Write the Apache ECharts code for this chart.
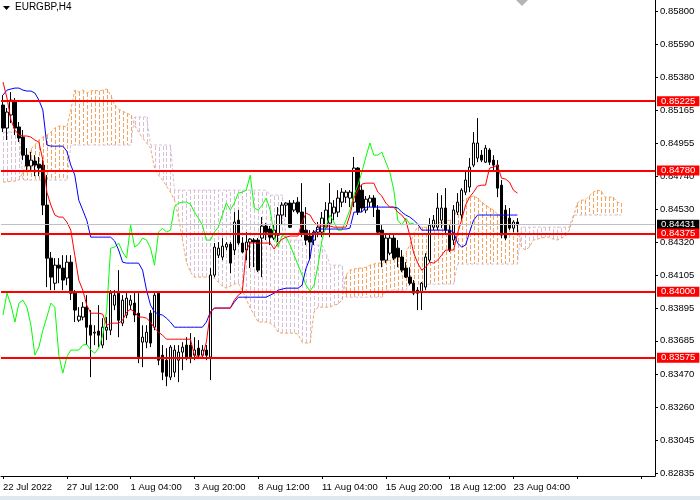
<!DOCTYPE html>
<html><head><meta charset="utf-8">
<script src="https://cdn.jsdelivr.net/npm/echarts/dist/echarts.min.js"></script>
<style>html,body{margin:0;padding:0;background:#fff}#c{width:700px;height:500px}</style>
</head><body><div id="c"></div>
<script>
// ---- DATA ----
const symbolTitle = 'EURGBP,H4';
const xTickLabels = ['22 Jul 2022','27 Jul 12:00','1 Aug 04:00','3 Aug 20:00','8 Aug 12:00','11 Aug 04:00','15 Aug 20:00','18 Aug 12:00','23 Aug 04:00'];
const yTickLabels = [0.82835,0.83045,0.83260,0.83470,0.83685,0.83895,0.84105,0.84320,0.84530,0.84740,0.84955,0.85165,0.85380,0.85590,0.85800];
const levels = [0.85225,0.84780,0.84375,0.84000,0.83575];
const bid = 0.84431;

const opens = [0.85200,0.85052,0.85136,0.85219,0.85059,0.84994,0.84878,0.84808,0.84840,0.84820,
0.84814,0.84557,0.84216,0.84055,0.84171,0.84152,0.84088,0.84190,0.83991,0.83817,
0.83837,0.83901,0.83785,0.83734,0.83747,0.83657,0.83753,0.83753,0.83914,0.83991,
0.83798,0.83850,0.83914,0.83927,0.83862,0.83676,0.83676,0.83862,0.83772,0.83991,
0.83592,0.83560,0.83451,0.83483,0.83560,0.83612,0.83657,0.83657,0.83592,0.83637,
0.83592,0.83625,0.83580,0.84107,0.84235,0.84223,0.84287,0.84306,0.84268,0.84460,
0.84313,0.84268,0.84319,0.84332,0.84332,0.84345,0.84422,0.84403,0.84345,0.84364,
0.84493,0.84557,0.84570,0.84525,0.84576,0.84512,0.84396,0.84358,0.84332,0.84383,
0.84383,0.84415,0.84441,0.84505,0.84512,0.84576,0.84608,0.84602,0.84576,0.84795,
0.84653,0.84525,0.84576,0.84602,0.84525,0.84396,0.84203,0.84248,0.84345,0.84280,
0.84223,0.84152,0.84094,0.84055,0.84010,0.83997,0.84030,0.84203,0.84415,0.84415,
0.84460,0.84538,0.84396,0.84332,0.84512,0.84493,0.84640,0.84673,0.84814,0.84859,
0.84878,0.84833,0.84911,0.84846,0.84814,0.84685,0.84525,0.84473,0.84409,0.84448];
const closes = [0.85052,0.85155,0.85232,0.85052,0.84988,0.84878,0.84808,0.84846,0.84814,0.84795,
0.84557,0.84216,0.84094,0.84171,0.84152,0.84075,0.84190,0.83991,0.83882,0.83843,
0.83901,0.83772,0.83721,0.83740,0.83721,0.83772,0.83772,0.83991,0.83978,0.83817,
0.83946,0.83959,0.83946,0.83850,0.83580,0.83708,0.83740,0.83670,0.83978,0.83560,
0.83483,0.83457,0.83644,0.83625,0.83612,0.83644,0.83580,0.83573,0.83625,0.83592,
0.83625,0.83592,0.84107,0.84287,0.84280,0.84293,0.84306,0.84184,0.84448,0.84313,
0.84255,0.84319,0.84338,0.84319,0.84139,0.84422,0.84383,0.84351,0.84396,0.84493,
0.84557,0.84570,0.84415,0.84570,0.84512,0.84377,0.84332,0.84319,0.84383,0.84415,
0.84473,0.84525,0.84570,0.84544,0.84602,0.84640,0.84640,0.84640,0.84795,0.84512,
0.84538,0.84595,0.84602,0.84544,0.84383,0.84203,0.84345,0.84345,0.84216,0.84223,
0.84139,0.84094,0.84055,0.83991,0.83991,0.84055,0.84223,0.84428,0.84460,0.84538,
0.84538,0.84396,0.84268,0.84525,0.84576,0.84653,0.84718,0.84801,0.84956,0.84956,
0.84846,0.84923,0.84833,0.84814,0.84666,0.84364,0.84345,0.84409,0.84448,0.84431];
const lows = [0.85026,0.84975,0.85084,0.85007,0.84962,0.84846,0.84769,0.84769,0.84743,0.84743,
0.84493,0.84030,0.84010,0.84010,0.84055,0.84010,0.84042,0.83946,0.83805,0.83805,
0.83817,0.83657,0.83451,0.83657,0.83644,0.83637,0.83689,0.83721,0.83882,0.83708,
0.83779,0.83830,0.83882,0.83805,0.83541,0.83515,0.83637,0.83644,0.83753,0.83528,
0.83432,0.83393,0.83432,0.83451,0.83419,0.83496,0.83560,0.83541,0.83560,0.83573,
0.83573,0.83560,0.83432,0.84094,0.84216,0.84203,0.84268,0.84120,0.84235,0.84300,
0.84248,0.84203,0.84152,0.84158,0.84126,0.84094,0.84332,0.84300,0.84332,0.84319,
0.84428,0.84480,0.84409,0.84512,0.84499,0.84351,0.84300,0.84203,0.84300,0.84351,
0.84351,0.84409,0.84351,0.84460,0.84480,0.84544,0.84570,0.84544,0.84544,0.84493,
0.84512,0.84505,0.84544,0.84480,0.84377,0.84158,0.84184,0.84235,0.84203,0.84158,
0.84126,0.84088,0.84042,0.83978,0.83882,0.83882,0.84010,0.84190,0.84396,0.84396,
0.84409,0.84377,0.84255,0.84300,0.84493,0.84460,0.84621,0.84640,0.84801,0.84833,
0.84833,0.84827,0.84814,0.84769,0.84608,0.84345,0.84332,0.84396,0.84383,0.84383];
const highs = [0.85264,0.85181,0.85283,0.85245,0.85091,0.85039,0.84923,0.84898,0.84878,0.84866,
0.84846,0.84750,0.84255,0.84216,0.84216,0.84235,0.84235,0.84235,0.84010,0.83901,
0.83933,0.83978,0.83882,0.83785,0.83914,0.83830,0.83837,0.84010,0.84010,0.84139,
0.83978,0.83991,0.83978,0.83991,0.83991,0.83785,0.83785,0.83882,0.83997,0.84004,
0.83657,0.83637,0.83657,0.83657,0.83657,0.83676,0.83708,0.83734,0.83708,0.83689,
0.83657,0.83657,0.84152,0.84313,0.84319,0.84345,0.84319,0.84319,0.84512,0.84525,
0.84351,0.84383,0.84345,0.84345,0.84345,0.84480,0.84441,0.84422,0.84428,0.84544,
0.84576,0.84576,0.84589,0.84589,0.84608,0.84698,0.84544,0.84396,0.84396,0.84448,
0.84512,0.84576,0.84698,0.84589,0.84653,0.84666,0.84653,0.84653,0.84866,0.84801,
0.84685,0.84615,0.84621,0.84621,0.84557,0.84428,0.84377,0.84377,0.84364,0.84332,
0.84268,0.84190,0.84158,0.84075,0.84030,0.84062,0.84248,0.84473,0.84493,0.84634,
0.84621,0.84666,0.84428,0.84557,0.84634,0.84666,0.84782,0.84859,0.85026,0.85116,
0.84911,0.84943,0.84923,0.84878,0.84846,0.84718,0.84557,0.84538,0.84460,0.84473];

const tenkan = [0.85348,0.85245,0.85103,0.85039,0.85007,0.85001,0.85001,0.84994,0.84975,0.84962,
0.84846,0.84640,0.84557,0.84493,0.84480,0.84480,0.84448,0.84396,0.84235,0.84075,
0.84010,0.83914,0.83862,0.83862,0.83862,0.83856,0.83785,0.83798,0.83798,0.83798,
0.83817,0.83869,0.83888,0.83869,0.83837,0.83837,0.83830,0.83805,0.83766,0.83740,
0.83721,0.83695,0.83695,0.83695,0.83695,0.83695,0.83695,0.83695,0.83592,0.83580,
0.83580,0.83676,0.83869,0.83895,0.83895,0.83895,0.83895,0.83895,0.83946,0.83978,
0.83997,0.84268,0.84313,0.84313,0.84313,0.84313,0.84313,0.84313,0.84274,0.84313,
0.84338,0.84351,0.84358,0.84358,0.84358,0.84448,0.84505,0.84493,0.84448,0.84422,
0.84422,0.84422,0.84422,0.84415,0.84415,0.84415,0.84415,0.84493,0.84602,0.84653,
0.84692,0.84698,0.84698,0.84698,0.84640,0.84615,0.84570,0.84544,0.84544,0.84512,
0.84493,0.84460,0.84364,0.84248,0.84184,0.84139,0.84158,0.84190,0.84184,0.84203,
0.84235,0.84268,0.84268,0.84268,0.84377,0.84460,0.84557,0.84608,0.84640,0.84679,
0.84685,0.84685,0.84795,0.84801,0.84814,0.84730,0.84724,0.84705,0.84653,0.84634];
const kijun = [0.85264,0.85296,0.85303,0.85309,0.85309,0.85296,0.85290,0.85290,0.85277,0.85232,
0.85168,0.84943,0.84936,0.84936,0.84936,0.84936,0.84904,0.84814,0.84750,0.84589,
0.84525,0.84460,0.84351,0.84351,0.84351,0.84351,0.84351,0.84351,0.84326,0.84268,
0.84190,0.84184,0.84184,0.84184,0.84184,0.84139,0.84010,0.83914,0.83869,0.83856,
0.83850,0.83830,0.83805,0.83772,0.83772,0.83772,0.83772,0.83772,0.83772,0.83772,
0.83772,0.83805,0.83869,0.83895,0.83895,0.83895,0.83895,0.83895,0.83933,0.83965,
0.83965,0.83965,0.83965,0.83965,0.83965,0.83965,0.83965,0.83978,0.83991,0.84010,
0.84017,0.84023,0.84023,0.84023,0.84023,0.84042,0.84152,0.84216,0.84383,0.84403,
0.84403,0.84403,0.84403,0.84403,0.84403,0.84403,0.84403,0.84409,0.84512,0.84512,
0.84512,0.84544,0.84544,0.84544,0.84544,0.84544,0.84544,0.84544,0.84544,0.84538,
0.84512,0.84493,0.84480,0.84460,0.84435,0.84396,0.84396,0.84396,0.84396,0.84396,
0.84396,0.84396,0.84396,0.84383,0.84313,0.84287,0.84300,0.84383,0.84460,0.84493,
0.84493,0.84493,0.84493,0.84493,0.84493,0.84493,0.84493,0.84493,0.84493,0.84493];
const chikou = [0.83850,0.83991,0.83914,0.83805,0.83927,0.83946,0.83901,0.83785,0.83592,0.83644,
0.83753,0.83837,0.83927,0.83901,0.83592,0.83477,0.83580,0.83625,0.83625,0.83625,
0.83657,0.83663,0.83625,0.83605,0.83637,0.83721,0.83882,0.84280,0.84287,0.84313,
0.84255,0.84216,0.84428,0.84287,0.84306,0.84345,0.84332,0.84280,0.84171,0.84383,
0.84409,0.84383,0.84396,0.84544,0.84570,0.84576,0.84576,0.84563,0.84512,0.84473,
0.84428,0.84332,0.84332,0.84383,0.84415,0.84493,0.84570,0.84525,0.84570,0.84634,
0.84640,0.84653,0.84750,0.84538,0.84525,0.84557,0.84602,0.84525,0.84364,0.84287,
0.84364,0.84351,0.84300,0.84235,0.84171,0.84107,0.84042,0.84004,0.84042,0.84171,
0.84332,0.84422,0.84493,0.84448,0.84396,0.84396,0.84460,0.84525,0.84621,0.84685,
0.84769,0.84866,0.84956,0.84878,0.84878,0.84898,0.84833,0.84769,0.84653,0.84460,
0.84428,0.84473,0.84435,0.84441];
const spanA = [0.84705,0.84705,0.84711,0.84711,0.84718,0.84769,0.84846,0.84917,0.84943,0.84975,
0.84994,0.85007,0.85026,0.85052,0.85065,0.85065,0.85059,0.85168,0.85296,0.85283,
0.85296,0.85277,0.85290,0.85296,0.85290,0.85296,0.85303,0.85264,0.85200,0.85174,
0.85161,0.85148,0.85136,0.85071,0.85026,0.84988,0.84956,0.84923,0.84795,0.84750,
0.84718,0.84679,0.84640,0.84589,0.84480,0.84332,0.84190,0.84126,0.84094,0.84094,
0.84094,0.84094,0.84094,0.84088,0.84062,0.84036,0.84023,0.84036,0.84049,0.84055,
0.84010,0.83952,0.83895,0.83850,0.83805,0.83805,0.83805,0.83798,0.83779,0.83740,
0.83734,0.83734,0.83734,0.83734,0.83727,0.83676,0.83670,0.83670,0.83869,0.83901,
0.83901,0.83901,0.83901,0.83914,0.83920,0.83946,0.84107,0.84139,0.84145,0.84152,
0.84152,0.84158,0.84171,0.84178,0.84184,0.84184,0.84197,0.84203,0.84210,0.84216,
0.84223,0.84248,0.84300,0.84377,0.84415,0.84415,0.84415,0.84422,0.84435,0.84441,
0.84448,0.84454,0.84460,0.84473,0.84538,0.84576,0.84595,0.84608,0.84615,0.84602,
0.84576,0.84557,0.84538,0.84525,0.84499,0.84480,0.84467,0.84448,0.84435,0.84422,
0.84287,0.84268,0.84287,0.84332,0.84338,0.84345,0.84351,0.84351,0.84338,0.84332,
0.84345,0.84358,0.84396,0.84473,0.84570,0.84589,0.84589,0.84615,0.84640,0.84653,
0.84647,0.84608,0.84608,0.84608,0.84576,0.84570];
const spanB = [0.85026,0.85026,0.85026,0.85026,0.85026,0.84718,0.84718,0.84718,0.84718,0.84718,
0.84718,0.84718,0.84718,0.84718,0.84718,0.84718,0.84718,0.84943,0.84943,0.84943,
0.84943,0.84943,0.84943,0.84943,0.84943,0.84943,0.84943,0.84943,0.84943,0.84943,
0.84943,0.84943,0.84943,0.85123,0.85123,0.85123,0.85123,0.84943,0.84943,0.84943,
0.84943,0.84943,0.84943,0.84653,0.84653,0.84653,0.84653,0.84653,0.84653,0.84653,
0.84653,0.84653,0.84653,0.84653,0.84653,0.84653,0.84653,0.84653,0.84653,0.84653,
0.84653,0.84653,0.84653,0.84653,0.84653,0.84653,0.84653,0.84621,0.84621,0.84621,
0.84621,0.84332,0.84332,0.84332,0.84332,0.84332,0.84332,0.84332,0.84300,0.84300,
0.84300,0.84248,0.84171,0.84171,0.84171,0.84171,0.83965,0.83965,0.83965,0.83965,
0.83965,0.83965,0.83965,0.83965,0.83965,0.83965,0.84010,0.84010,0.84010,0.84010,
0.84010,0.84010,0.84049,0.84049,0.84049,0.84049,0.84049,0.84049,0.84049,0.84049,
0.84049,0.84049,0.84049,0.84049,0.84178,0.84178,0.84178,0.84178,0.84178,0.84178,
0.84178,0.84178,0.84178,0.84178,0.84178,0.84178,0.84178,0.84178,0.84178,0.84178,
0.84415,0.84415,0.84415,0.84415,0.84415,0.84415,0.84415,0.84415,0.84415,0.84415,
0.84415,0.84415,0.84415,0.84493,0.84493,0.84493,0.84493,0.84493,0.84493,0.84493,
0.84493,0.84493,0.84493,0.84493,0.84493,0.84493];

// H4 bar times (weekends skipped), incl. future slots for the shifted cloud
const months = ['Jan','Feb','Mar','Apr','May','Jun','Jul','Aug','Sep','Oct','Nov','Dec'];
const categories = [];
(function () {
  let t = Date.UTC(2022, 6, 22, 20);
  while (categories.length < 164) {
    const d = new Date(t), wd = d.getUTCDay();
    if (wd !== 0 && wd !== 6) {
      categories.push(d.getUTCDate() + ' ' + months[d.getUTCMonth()] + ' ' + String(d.getUTCHours()).padStart(2, '0') + ':00');
    }
    t += 4 * 3600 * 1000;
  }
})();
const labelStep = 16;

const candleData = opens.map((o, i) => [o, closes[i], lows[i], highs[i]]);
const cloudData = spanA.map((a, i) => [i, a, spanB[i]]);

const FONT = '"Liberation Sans", Arial, sans-serif';
const chart = echarts.init(document.getElementById('c'), null, {renderer: 'canvas'});
const boxLabel = (bg) => ({show: true, position: 'end', distance: 2, formatter: (p) => Number(p.value).toFixed(5),
  color: '#fff', backgroundColor: bg, fontSize: 9.5, fontFamily: FONT, padding: [1, 4, 0, 4], lineHeight: 9});
chart.setOption({
  animation: false,
  backgroundColor: '#ffffff',
  textStyle: {fontFamily: FONT},
  grid: {left: 0, right: 45, top: 0, bottom: 24},
  xAxis: {
    type: 'category', data: categories, boundaryGap: true,
    axisLine: {show: true, lineStyle: {color: '#000', width: 1}},
    axisTick: {show: true, alignWithLabel: true, length: 3, interval: (i) => i % labelStep === 0, lineStyle: {color: '#000'}},
    axisLabel: {interval: (i) => i % labelStep === 0, formatter: (v, i) => xTickLabels[i / labelStep] || '',
      align: 'left', color: '#000', fontSize: 9.5, fontFamily: FONT, margin: 6},
    splitLine: {show: false}
  },
  yAxis: {
    type: 'value', position: 'right', min: 0.828157, max: 0.858752,
    axisLine: {show: true, lineStyle: {color: '#000', width: 1}},
    axisTick: {show: true, inside: false, length: 3, customValues: yTickLabels, lineStyle: {color: '#000'}},
    axisLabel: {customValues: yTickLabels, formatter: (v) => v.toFixed(5), color: '#000', fontSize: 9.5, fontFamily: FONT, margin: 5},
    splitLine: {show: false}
  },
  series: [
    {
      type: 'custom', name: 'cloud', z: 1, silent: true, clip: true,
      data: cloudData, encode: {x: 0, y: [1, 2]},
      renderItem: function (params, api) {
        const a = api.value(1), b = api.value(2);
        const p1 = api.coord([api.value(0), a]);
        const p2 = api.coord([api.value(0), b]);
        const x = Math.round(p1[0]) + 0.5;
        return {type: 'line', shape: {x1: x, y1: Math.round(p1[1]), x2: x, y2: Math.round(p2[1])},
          style: {stroke: a >= b ? '#F4A460' : '#D8BFD8', lineWidth: 1, lineDash: [4, 2]}};
      }
    },
    {type: 'line', name: 'Senkou A', data: spanA, z: 2, symbol: 'none', silent: true,
      lineStyle: {color: '#F4A460', width: 1, type: [3, 2]},
      markLine: {symbol: ['none', 'none'], silent: true, animation: false, precision: 5,
        lineStyle: {color: '#C0C0C0', width: 1, type: 'solid'},
        label: boxLabel('#000000'),
        data: [{yAxis: bid}]}},
    {type: 'line', name: 'Senkou B', data: spanB, z: 2, symbol: 'none', silent: true,
      lineStyle: {color: '#D8BFD8', width: 1, type: [3, 2]}},
    {type: 'candlestick', name: 'EURGBP', data: candleData, z: 3, barWidth: 3, silent: true,
      itemStyle: {color: '#ffffff', color0: '#000000', borderColor: '#000000', borderColor0: '#000000', borderWidth: 1}},
    {type: 'line', name: 'Chikou', data: chikou, z: 4, symbol: 'none', silent: true, lineStyle: {color: '#00FF00', width: 1}},
    {type: 'line', name: 'Kijun', data: kijun, z: 4, symbol: 'none', silent: true, lineStyle: {color: '#0000FF', width: 1}},
    {type: 'line', name: 'Tenkan', data: tenkan, z: 4, symbol: 'none', silent: true, lineStyle: {color: '#FF0000', width: 1}},
    {type: 'line', name: 'levels', data: [], z: 10, silent: true,
      markLine: {symbol: ['none', 'none'], silent: true, animation: false, precision: 5,
        lineStyle: {color: '#FF0000', width: 2, type: 'solid'},
        label: boxLabel('#FF0000'),
        data: levels.map((v) => ({yAxis: v}))}}
  ],
  graphic: [
    {type: 'polygon', shape: {points: [[3, 6], [10, 6], [6.5, 10]]}, style: {fill: '#000'}},
    {type: 'text', left: 15, top: 2, style: {text: symbolTitle, font: '10px ' + FONT, fill: '#000'}},
    {type: 'polygon', shape: {points: [[516, 0], [528, 0], [522, 6]]}, style: {fill: '#b4b4b4'}},
    {type: 'rect', shape: {x: 0, y: 496, width: 700, height: 4}, style: {fill: '#dfe7ef'}}
  ]
});
</script></body></html>
